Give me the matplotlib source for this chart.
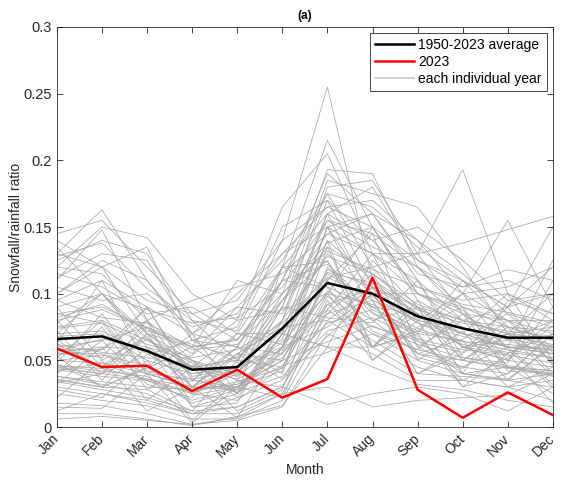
import matplotlib
matplotlib.use("Agg")
import matplotlib.pyplot as plt
import matplotlib.transforms as mtransforms
import numpy as np

months = ["Jan", "Feb", "Mar", "Apr", "May", "Jun", "Jul", "Aug", "Sep", "Oct", "Nov", "Dec"]

avg_1950_2023 = [0.066, 0.068, 0.057, 0.043, 0.045, 0.074, 0.108, 0.100, 0.083, 0.074, 0.067, 0.067]
year_2023 = [0.059, 0.045, 0.046, 0.027, 0.043, 0.022, 0.036, 0.112, 0.028, 0.007, 0.026, 0.009]

individual_years = [
    [.145, .155, .120, .085, .095, .140, .255, .110, .090, .070, .060, .055],
    [.130, .163, .110, .070, .060, .120, .215, .150, .100, .080, .090, .120],
    [.120, .150, .142, .100, .080, .165, .205, .130, .110, .060, .050, .045],
    [.140, .120, .070, .060, .110, .100, .193, .190, .120, .090, .080, .070],
    [.125, .140, .130, .080, .050, .090, .185, .175, .165, .120, .070, .060],
    [.110, .148, .080, .050, .040, .080, .180, .185, .130, .193, .100, .080],
    [.100, .120, .135, .065, .060, .110, .175, .120, .130, .138, .148, .158],
    [.095, .110, .090, .070, .100, .130, .165, .170, .140, .100, .155, .090],
    [.090, .100, .070, .045, .070, .070, .160, .180, .125, .110, .090, .150],
    [.085, .090, .075, .055, .090, .085, .155, .145, .120, .085, .060, .125],
    [.080, .045, .075, .030, .045, .060, .150, .130, .100, .090, .075, .065],
    [.075, .080, .065, .045, .050, .095, .145, .160, .110, .080, .070, .050],
    [.072, .035, .070, .050, .025, .070, .060, .125, .090, .040, .095, .100],
    [.070, .072, .055, .035, .030, .060, .140, .110, .085, .060, .065, .080],
    [.068, .070, .050, .040, .045, .100, .138, .150, .095, .075, .060, .055],
    [.065, .068, .058, .030, .055, .075, .130, .100, .080, .100, .080, .060],
    [.063, .110, .045, .025, .040, .095, .125, .060, .070, .065, .030, .045],
    [.060, .065, .075, .060, .065, .110, .122, .090, .085, .060, .055, .070],
    [.058, .058, .090, .035, .060, .055, .140, .050, .075, .090, .045, .040],
    [.055, .055, .040, .030, .030, .050, .118, .105, .090, .080, .070, .075],
    [.053, .030, .045, .070, .025, .060, .115, .095, .040, .055, .080, .048],
    [.050, .048, .035, .025, .020, .045, .112, .120, .080, .070, .060, .060],
    [.048, .085, .040, .030, .055, .050, .110, .145, .060, .045, .040, .070],
    [.046, .042, .038, .018, .028, .070, .108, .100, .100, .085, .065, .055],
    [.045, .040, .080, .015, .025, .120, .105, .090, .070, .110, .075, .065],
    [.043, .038, .035, .020, .030, .055, .102, .080, .055, .050, .045, .042],
    [.040, .075, .028, .012, .050, .045, .100, .060, .085, .070, .100, .050],
    [.038, .032, .025, .010, .022, .035, .098, .075, .065, .040, .035, .040],
    [.036, .030, .060, .015, .018, .080, .160, .095, .040, .060, .050, .090],
    [.034, .028, .022, .012, .015, .030, .092, .070, .050, .040, .045, .038],
    [.032, .060, .020, .045, .012, .028, .120, .085, .070, .030, .040, .070],
    [.030, .025, .018, .010, .010, .025, .088, .065, .045, .035, .030, .035],
    [.028, .022, .050, .005, .035, .030, .085, .115, .060, .080, .045, .025],
    [.025, .020, .016, .006, .006, .020, .080, .060, .040, .038, .035, .030],
    [.022, .050, .012, .030, .007, .060, .075, .100, .055, .045, .060, .032],
    [.018, .016, .010, .002, .005, .015, .070, .055, .035, .035, .030, .020],
    [.015, .014, .040, .003, .030, .022, .095, .050, .080, .030, .055, .018],
    [.010, .010, .006, .001, .008, .016, .060, .045, .032, .028, .020, .015],
    [.006, .008, .005, .002, .007, .025, .030, .015, .020, .022, .024, .040],
    [.012, .025, .020, .010, .015, .030, .017, .025, .030, .025, .012, .030],
    [.115, .105, .085, .090, .070, .120, .160, .140, .105, .095, .100, .085],
    [.105, .095, .100, .075, .085, .130, .150, .160, .115, .105, .110, .095],
    [.130, .120, .095, .085, .065, .110, .190, .160, .140, .115, .085, .075],
    [.100, .125, .110, .065, .075, .150, .170, .140, .150, .125, .095, .085],
    [.120, .115, .080, .095, .105, .115, .145, .130, .130, .085, .080, .080],
    [.090, .050, .068, .030, .060, .040, .135, .060, .095, .050, .075, .040],
    [.082, .092, .072, .062, .052, .080, .128, .115, .088, .078, .072, .068],
    [.078, .100, .066, .048, .025, .075, .080, .105, .050, .072, .035, .062],
    [.074, .078, .062, .052, .058, .078, .112, .098, .078, .068, .060, .058],
    [.066, .040, .054, .065, .048, .110, .105, .060, .072, .100, .058, .030],
    [.062, .056, .052, .046, .038, .064, .100, .092, .074, .062, .056, .052],
    [.058, .052, .090, .038, .044, .058, .150, .086, .068, .035, .052, .080],
    [.056, .060, .058, .044, .036, .052, .092, .104, .078, .064, .062, .058],
    [.052, .080, .042, .034, .070, .062, .088, .130, .064, .056, .090, .046],
    [.050, .054, .046, .028, .032, .056, .085, .095, .080, .074, .068, .062],
    [.048, .030, .044, .060, .038, .090, .082, .078, .110, .052, .048, .110],
    [.046, .044, .036, .026, .034, .044, .078, .088, .072, .064, .058, .052],
    [.044, .040, .070, .024, .030, .042, .110, .072, .058, .085, .042, .040],
    [.042, .048, .040, .036, .026, .038, .072, .082, .066, .058, .054, .048],
    [.040, .065, .032, .022, .055, .036, .068, .100, .052, .044, .070, .038],
    [.038, .034, .030, .028, .032, .050, .064, .076, .062, .052, .046, .042],
    [.035, .030, .028, .050, .022, .070, .060, .060, .090, .040, .036, .060],
    [.033, .040, .036, .030, .028, .046, .056, .070, .058, .050, .044, .040],
    [.070, .100, .060, .050, .035, .090, .170, .105, .085, .050, .070, .066],
    [.080, .088, .074, .058, .062, .095, .135, .115, .092, .080, .075, .072],
    [.085, .078, .040, .054, .080, .088, .100, .150, .100, .088, .050, .076],
    [.095, .082, .078, .060, .066, .100, .132, .118, .105, .092, .086, .078],
    [.062, .045, .066, .044, .052, .120, .124, .080, .090, .060, .070, .100],
    [.057, .066, .060, .040, .046, .072, .116, .108, .084, .070, .066, .060],
    [.054, .058, .080, .036, .042, .066, .150, .100, .055, .066, .085, .056],
    [.128, .138, .104, .080, .072, .140, .165, .150, .125, .105, .118, .110],
    [.112, .130, .125, .070, .090, .125, .175, .165, .135, .110, .090, .100],
    [.135, .100, .088, .078, .082, .105, .155, .135, .120, .100, .105, .120],
]

plt.rcParams['font.family'] = ['Liberation Sans', 'DejaVu Sans']

fig = plt.figure(figsize=(5.63, 4.82), dpi=100)
ax = fig.add_axes([0.101, 0.114, 0.881, 0.830])

x = np.arange(1, len(months) + 1)
for i, row in enumerate(individual_years):
    ax.plot(x, row, color=(0.66, 0.66, 0.66), lw=0.55,
            label="each individual year" if i == 0 else None, zorder=1)
ax.plot(x, avg_1950_2023, color='black', lw=1.8, label="1950-2023 average", zorder=3)
ax.plot(x, year_2023, color='red', lw=1.8, label="2023", zorder=4)

ax.set_xlim(1, 12)
ax.set_ylim(0, 0.3)
ax.set_xticks(x)
ax.set_xticklabels(months, rotation=45, fontsize=10, color='#262626',
                   ha='right', va='center', rotation_mode='anchor')
offset = mtransforms.ScaledTranslation(6 / 100, 0, fig.dpi_scale_trans)
for lbl in ax.get_xticklabels():
    lbl.set_transform(lbl.get_transform() + offset)
ax.set_yticks([0, 0.05, 0.1, 0.15, 0.2, 0.25, 0.3])
ax.set_yticklabels(["0", "0.05", "0.1", "0.15", "0.2", "0.25", "0.3"], fontsize=10.5, color='#262626')
ax.tick_params(direction='in', top=True, right=True, length=4, width=0.6, colors='#262626',
               labelcolor='#262626')
ax.tick_params(axis='x', pad=7)
for s in ax.spines.values():
    s.set_linewidth(0.6)
    s.set_color('#262626')

ax.set_xlabel("Month", fontsize=10, color='#262626', labelpad=2)
ax.set_ylabel("Snowfall/rainfall ratio", fontsize=10, color='#262626', labelpad=0)
ax.set_title("(a)", fontsize=8.5, fontweight='bold', pad=6)

handles, labels = ax.get_legend_handles_labels()
order = [labels.index("1950-2023 average"), labels.index("2023"), labels.index("each individual year")]
leg = ax.legend([handles[i] for i in order], [labels[i] for i in order], loc='upper right',
                fontsize=10, frameon=True, fancybox=False, edgecolor='#262626', framealpha=1,
                borderpad=0.35, handlelength=2.8, handletextpad=0.3, labelspacing=0.2,
                borderaxespad=0.45)
leg.get_frame().set_linewidth(0.6)
leg.legend_handles[2].set_color((0.78, 0.78, 0.78))
leg.legend_handles[2].set_linewidth(1.2)

fig.savefig("out.png", dpi=100)
